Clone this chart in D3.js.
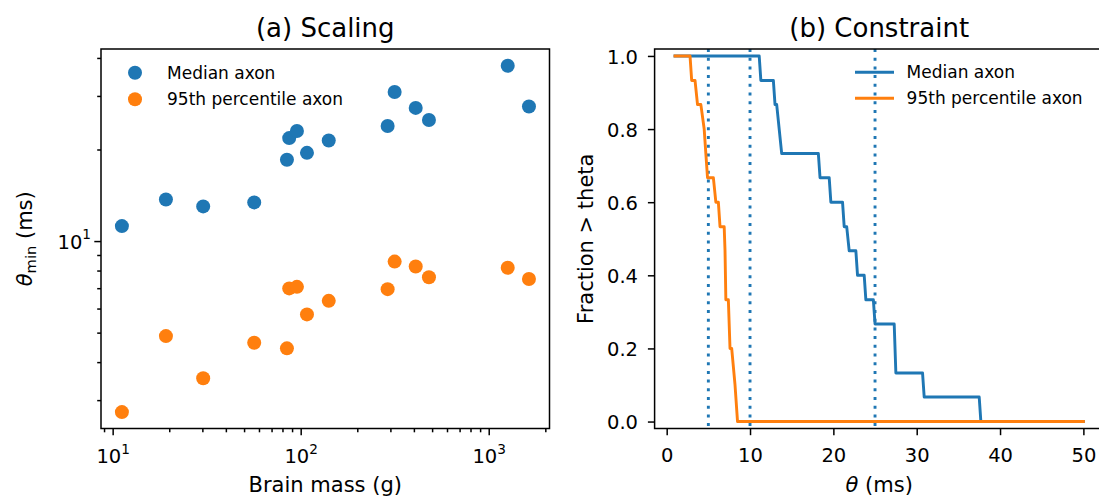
<!DOCTYPE html>
<html>
<head>
<meta charset="utf-8">
<title>Scaling and Constraint</title>
<script src="https://d3js.org/d3.v7.min.js"></script>
<style>
  body { margin: 0; background: #ffffff; }
  svg { display: block; font-family: "DejaVu Sans", sans-serif; }
  text { white-space: pre; }
</style>
</head>
<body>
<script>
// ---- data ----
// panel (a): brain mass (g) and theta_min (ms) for each species
var brainMass   = [11.2, 19.2, 30.3, 56.6, 84.5, 86.9, 95.5, 108, 141, 290, 316, 409, 481, 1262, 1637];
var medianTheta = [11.2, 13.7, 13.0, 13.4, 18.5, 21.8, 23.0, 19.5, 21.4, 23.9, 30.9, 27.4, 25.0, 37.7, 27.7];
var p95Theta    = [2.74, 4.87, 3.54, 4.63, 4.44, 6.99, 7.07, 5.74, 6.36, 6.95, 8.56, 8.25, 7.60, 8.17, 7.50];
var seriesNames = ["Median axon", "95th percentile axon"];

// panel (b): fraction of species with theta_min > theta (vertices of the drawn curves)
var medianCurveTheta = [1, 11.1, 11.3, 12.8, 13.0, 13.2, 13.5, 13.8, 18.2, 18.4, 19.5, 19.7, 21.1, 21.3, 21.6, 21.9, 22.7, 22.9, 23.7, 23.9, 24.8, 25.0, 27.3, 27.5, 30.7, 30.9, 37.5, 37.7, 50];
var medianCurveFrac  = [1, 1, 0.933, 0.933, 0.867, 0.867, 0.8, 0.733, 0.733, 0.667, 0.667, 0.6, 0.6, 0.533, 0.533, 0.467, 0.467, 0.4, 0.4, 0.333, 0.333, 0.267, 0.267, 0.133, 0.133, 0.067, 0.067, 0, 0];
var p95CurveTheta = [1, 2.8, 3.0, 3.4, 3.7, 4.1, 4.5, 4.7, 4.9, 5.6, 5.9, 6.2, 6.4, 6.9, 7.0, 7.05, 7.1, 7.4, 7.6, 7.8, 8.2, 8.5, 50];
var p95CurveFrac  = [1, 1, 0.933, 0.933, 0.867, 0.867, 0.8, 0.733, 0.667, 0.667, 0.6, 0.6, 0.533, 0.533, 0.467, 0.4, 0.333, 0.333, 0.2, 0.2, 0.1, 0, 0];
var cutoffs = [5, 10, 25];

var xTicksB = [0, 10, 20, 30, 40, 50];
var yTicksB = [0, 0.2, 0.4, 0.6, 0.8, 1.0];
var xTicksA = [10, 100, 1000];
var yTicksA = [10];

// ---- layout ----
var W = 1099, H = 498;
var blue = "#1f77b4", orange = "#ff7f0e";
var tickFont = 19.5, labelFont = 21, titleFont = 26, legendFont = 17;
var majorLen = 6.7, minorLen = 3.8;

var A = {left: 101, right: 549.5, top: 49, bottom: 428.5};
var B = {left: 654.6, right: 1103.8, top: 49, bottom: 428.5};

var svg = d3.select("body").append("svg")
    .attr("width", W)
    .attr("height", H);

var xA = d3.scaleLog().domain([8.67, 2105]).range([A.left, A.right]);
var yA = d3.scaleLog().domain([2.42, 42.8]).range([A.bottom, A.top]);
var xB = d3.scaleLinear().domain([-1.45, 52.45]).range([B.left, B.right]);
var yB = d3.scaleLinear().domain([-0.019, 1.019]).range([B.bottom, B.top]);

// minor ticks of a log axis inside its domain
function logMinor(scale) {
    var d = scale.domain(), out = [];
    for (var e = -1; e < 5; e++) {
        for (var k = 2; k < 10; k++) {
            var v = k * Math.pow(10, e);
            if (v >= d[0] && v <= d[1]) out.push(v);
        }
    }
    return out;
}

function styleAxis(g) {
    g.attr("font-size", tickFont).attr("font-family", "DejaVu Sans, sans-serif");
    g.select(".domain").remove();
    g.selectAll(".tick line").attr("stroke", "#000").attr("stroke-width", 1.5);
    g.selectAll(".tick text").attr("fill", "#000");
}

// "10" with superscript exponent
function powLabel(text) {
    text.each(function(d) {
        var t = d3.select(this).text(null);
        t.append("tspan").text("10");
        t.append("tspan").attr("font-size", tickFont * 0.7).attr("dy", -9.5)
            .text(Math.round(Math.log10(d)));
    });
}

// ================= panel (a) =================
var gA = svg.append("g");

gA.append("g")
    .attr("transform", "translate(0," + A.bottom + ")")
    .call(d3.axisBottom(xA).tickValues(logMinor(xA)).tickSize(minorLen).tickFormat(""))
    .call(styleAxis);
var gxA = gA.append("g")
    .attr("transform", "translate(0," + A.bottom + ")")
    .call(d3.axisBottom(xA).tickValues(xTicksA).tickSize(majorLen).tickFormat(""))
    .call(styleAxis);
gxA.selectAll(".tick text").attr("y", 34.5).attr("dy", null).call(powLabel);

gA.append("g")
    .attr("transform", "translate(" + A.left + ",0)")
    .call(d3.axisLeft(yA).tickValues(logMinor(yA)).tickSize(minorLen).tickFormat(""))
    .call(styleAxis);
var gyA = gA.append("g")
    .attr("transform", "translate(" + A.left + ",0)")
    .call(d3.axisLeft(yA).tickValues(yTicksA).tickSize(majorLen).tickFormat(""))
    .call(styleAxis);
gyA.selectAll(".tick text").attr("x", -10).attr("y", 7.3).attr("dy", null).call(powLabel);

// points
var pts = brainMass.map(function(m, i) { return {m: m, med: medianTheta[i], p95: p95Theta[i]}; });
gA.append("g").selectAll("circle")
    .data(pts).enter().append("circle")
    .attr("cx", function(d) { return xA(d.m); })
    .attr("cy", function(d) { return yA(d.med); })
    .attr("r", 7)
    .attr("fill", blue);
gA.append("g").selectAll("circle")
    .data(pts).enter().append("circle")
    .attr("cx", function(d) { return xA(d.m); })
    .attr("cy", function(d) { return yA(d.p95); })
    .attr("r", 7)
    .attr("fill", orange);

gA.append("rect")
    .attr("x", A.left).attr("y", A.top)
    .attr("width", A.right - A.left).attr("height", A.bottom - A.top)
    .attr("fill", "none").attr("stroke", "#000").attr("stroke-width", 1.5);

// legend (a)
var legA = gA.append("g").selectAll("g")
    .data(seriesNames).enter().append("g")
    .attr("transform", function(d, i) { return "translate(135," + (72.7 + 26.6 * i) + ")"; });
legA.append("circle").attr("r", 7).attr("fill", function(d, i) { return i ? orange : blue; });
legA.append("text").attr("x", 32).attr("y", 6).attr("font-size", legendFont).text(function(d) { return d; });

// labels (a)
gA.append("text")
    .attr("x", (A.left + A.right) / 2).attr("y", 37)
    .attr("text-anchor", "middle").attr("font-size", titleFont)
    .text("(a) Scaling");
gA.append("text")
    .attr("x", (A.left + A.right) / 2).attr("y", 492)
    .attr("text-anchor", "middle").attr("font-size", labelFont)
    .text("Brain mass (g)");
var ylabA = gA.append("text")
    .attr("transform", "translate(32," + (A.top + A.bottom) / 2 + ") rotate(-90)")
    .attr("text-anchor", "middle").attr("font-size", labelFont);
ylabA.append("tspan").attr("font-style", "italic").text("θ");
ylabA.append("tspan").attr("font-size", labelFont * 0.7).attr("dy", 4).text("min");
ylabA.append("tspan").attr("dy", -4).text(" (ms)");

// ================= panel (b) =================
var gB = svg.append("g");

var gxB = gB.append("g")
    .attr("transform", "translate(0," + B.bottom + ")")
    .call(d3.axisBottom(xB).tickValues(xTicksB).tickSize(majorLen))
    .call(styleAxis);
gxB.selectAll(".tick text").attr("y", 33.5).attr("dy", null);

var gyB = gB.append("g")
    .attr("transform", "translate(" + B.left + ",0)")
    .call(d3.axisLeft(yB).tickValues(yTicksB).tickSize(majorLen).tickFormat(d3.format(".1f")))
    .call(styleAxis);
gyB.selectAll(".tick text").attr("x", -16.6).attr("y", 7.1).attr("dy", null);

// dotted cutoffs
gB.append("g").selectAll("line")
    .data(cutoffs).enter().append("line")
    .attr("x1", function(d) { return xB(d); }).attr("x2", function(d) { return xB(d); })
    .attr("y1", B.top).attr("y2", B.bottom)
    .attr("stroke", blue).attr("stroke-width", 2.9)
    .attr("stroke-dasharray", "3,5.7");

var line = d3.line()
    .x(function(d) { return xB(d[0]); })
    .y(function(d) { return yB(d[1]); });

gB.append("path")
    .datum(d3.zip(medianCurveTheta, medianCurveFrac))
    .attr("d", line)
    .attr("fill", "none").attr("stroke", blue).attr("stroke-width", 2.9)
    .attr("stroke-linejoin", "round").attr("stroke-linecap", "square");
gB.append("path")
    .datum(d3.zip(p95CurveTheta, p95CurveFrac))
    .attr("d", line)
    .attr("fill", "none").attr("stroke", orange).attr("stroke-width", 2.9)
    .attr("stroke-linejoin", "round").attr("stroke-linecap", "square");

gB.append("rect")
    .attr("x", B.left).attr("y", B.top)
    .attr("width", B.right - B.left).attr("height", B.bottom - B.top)
    .attr("fill", "none").attr("stroke", "#000").attr("stroke-width", 1.5);

// legend (b)
var legB = gB.append("g").selectAll("g")
    .data(seriesNames).enter().append("g")
    .attr("transform", function(d, i) { return "translate(855," + (72.3 + 26 * i) + ")"; });
legB.append("line").attr("x1", 0).attr("x2", 39)
    .attr("stroke", function(d, i) { return i ? orange : blue; }).attr("stroke-width", 2.9);
legB.append("text").attr("x", 51.6).attr("y", 6).attr("font-size", legendFont).text(function(d) { return d; });

// labels (b)
gB.append("text")
    .attr("x", (B.left + B.right) / 2).attr("y", 37)
    .attr("text-anchor", "middle").attr("font-size", titleFont)
    .text("(b) Constraint");
var xlabB = gB.append("text")
    .attr("x", (B.left + B.right) / 2).attr("y", 492)
    .attr("text-anchor", "middle").attr("font-size", labelFont);
xlabB.append("tspan").attr("font-style", "italic").text("θ");
xlabB.append("tspan").text(" (ms)");
gB.append("text")
    .attr("transform", "translate(592.5," + (B.top + B.bottom) / 2 + ") rotate(-90)")
    .attr("text-anchor", "middle").attr("font-size", labelFont)
    .text("Fraction > theta");
</script>
</body>
</html>
